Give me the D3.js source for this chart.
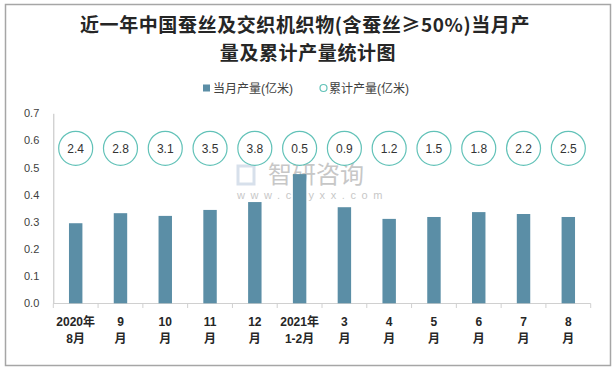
<!DOCTYPE html>
<html>
<head>
<meta charset="utf-8">
<script src="https://cdn.jsdelivr.net/npm/d3@7"></script>
<style>
  body { margin: 0; background: #fff; }
  text { font-family: "Liberation Sans", "Noto Sans CJK SC", sans-serif; }
</style>
</head>
<body>
<div id="chart"></div>
<script>
// Data
var monthTop = ["2020年", "9", "10", "11", "12", "2021年", "3", "4", "5", "6", "7", "8"];
var monthBottom = ["8月", "月", "月", "月", "月", "1-2月", "月", "月", "月", "月", "月", "月"];
var monthOutput = [0.295, 0.332, 0.322, 0.344, 0.373, 0.476, 0.354, 0.311, 0.318, 0.336, 0.329, 0.318];
var cumOutput = [2.4, 2.8, 3.1, 3.5, 3.8, 0.5, 0.9, 1.2, 1.5, 1.8, 2.2, 2.5];
var yTicks = [0, 0.1, 0.2, 0.3, 0.4, 0.5, 0.6, 0.7];

var svgWidth = 615;
var svgHeight = 370;
var barColor = "#5b8ea6";
var ringColor = "#62c2b8";

var svg = d3.select("#chart")
    .append("svg")
    .attr("width", svgWidth)
    .attr("height", svgHeight);

// outer frame
svg.append("rect")
    .attr("x", 5.5).attr("y", 4.5)
    .attr("width", 605).attr("height", 361)
    .attr("fill", "#fff")
    .attr("stroke", "#a6a6a6")
    .attr("stroke-width", 1.5);

// title, two separate lines
var titleLines = ["近一年中国蚕丝及交织机织物(含蚕丝≥50%)当月产", "量及累计产量统计图"];
svg.selectAll(".title")
    .data(titleLines)
    .enter()
    .append("text")
    .attr("class", "title")
    .attr("x", (d, i) => i ? 308 : 305)
    .attr("y", (d, i) => i ? 59.5 : 31.5)
    .attr("text-anchor", "middle")
    .style("font-family", "'Noto Sans CJK SC', sans-serif")
    .style("font-size", "19px")
    .style("letter-spacing", "0.6px")
    .style("font-weight", "bold")
    .attr("fill", "#262626")
    .text(d => d);

// legend
svg.append("rect")
    .attr("x", 203).attr("y", 84.5)
    .attr("width", 7).attr("height", 7)
    .attr("fill", barColor);
svg.append("text")
    .attr("x", 213).attr("y", 92.5)
    .style("font-size", "12px")
    .attr("fill", "#404040")
    .text("当月产量(亿米)");
svg.append("circle")
    .attr("cx", 323.5).attr("cy", 88)
    .attr("r", 3.5)
    .attr("fill", "none")
    .attr("stroke", ringColor)
    .attr("stroke-width", 1.2);
svg.append("text")
    .attr("x", 329).attr("y", 92.5)
    .style("font-size", "12px")
    .attr("fill", "#404040")
    .text("累计产量(亿米)");

// scales
var x = d3.scaleBand()
    .domain(d3.range(monthTop.length))
    .range([53.3, 590.7])
    .padding(0);
var y = d3.scaleLinear()
    .domain([0, 0.7])
    .range([303.3, 113.3]);
var bw = x.bandwidth();

// y axis
var leftAxis = d3.axisLeft(y)
    .tickValues(yTicks)
    .tickFormat(d3.format(".1f"))
    .tickSize(0)
    .tickPadding(14);
var yAxisG = svg.append("g")
    .attr("transform", "translate(53.3,0)")
    .call(leftAxis);
yAxisG.select(".domain").attr("stroke", "#bfbfbf");
yAxisG.selectAll("text")
    .style("font-size", "11px")
    .style("font-family", "'Liberation Sans', sans-serif")
    .attr("fill", "#404040");

// x axis line and ticks at category boundaries
svg.append("line")
    .attr("x1", 53.3).attr("x2", 590.7)
    .attr("y1", 303.5).attr("y2", 303.5)
    .attr("stroke", "#d0d0d0");
svg.selectAll(".xtick")
    .data(d3.range(monthTop.length + 1))
    .enter()
    .append("line")
    .attr("x1", d => 53.3 + d * bw)
    .attr("x2", d => 53.3 + d * bw)
    .attr("y1", 303.5).attr("y2", 308)
    .attr("stroke", "#d0d0d0");

// watermark
var wm = svg.append("g").attr("opacity", 0.55);
wm.append("rect").attr("x", 238).attr("y", 166).attr("width", 16).attr("height", 18)
    .attr("fill", "none").attr("stroke", "#b8c8dc").attr("stroke-width", 3);
wm.append("text")
    .attr("x", 268).attr("y", 183)
    .style("font-family", "'Noto Sans CJK SC', sans-serif")
    .style("font-size", "24px")
    .attr("fill", "#9a9a9a")
    .text("智研咨询");
wm.append("text")
    .attr("x", 237).attr("y", 199)
    .style("font-size", "11px")
    .style("letter-spacing", "5.6px")
    .attr("fill", "#9a9a9a")
    .text("www.chyxx.com");

// bars
svg.selectAll(".bar")
    .data(monthOutput)
    .enter()
    .append("rect")
    .attr("class", "bar")
    .attr("x", (d, i) => x(i) + bw * 0.35)
    .attr("width", bw * 0.3)
    .attr("y", d => y(d))
    .attr("height", d => y(0) - y(d))
    .attr("fill", barColor);

// cumulative rings with labels
var ringY = y(0.571);
svg.selectAll(".ring")
    .data(cumOutput)
    .enter()
    .append("circle")
    .attr("class", "ring")
    .attr("cx", (d, i) => x(i) + bw / 2)
    .attr("cy", ringY)
    .attr("r", 17)
    .attr("fill", "#fff")
    .attr("stroke", ringColor)
    .attr("stroke-width", 1.2);
svg.selectAll(".ringText")
    .data(cumOutput)
    .enter()
    .append("text")
    .attr("class", "ringText")
    .attr("x", (d, i) => x(i) + bw / 2)
    .attr("y", ringY + 4.5)
    .attr("text-anchor", "middle")
    .style("font-size", "12px")
    .attr("fill", "#333")
    .text(d => d3.format(".1f")(d));

// x labels (two lines)
var xl = svg.selectAll(".xlab")
    .data(monthTop)
    .enter()
    .append("text")
    .attr("class", "xlab")
    .attr("text-anchor", "middle")
    .style("font-size", "12px")
    .style("font-weight", "bold")
    .attr("fill", "#262626");
xl.append("tspan")
    .attr("x", (d, i) => x(i) + bw / 2)
    .attr("y", 326)
    .text(d => d);
xl.append("tspan")
    .attr("x", (d, i) => x(i) + bw / 2)
    .attr("y", 343)
    .text((d, i) => monthBottom[i]);
</script>
</body>
</html>
